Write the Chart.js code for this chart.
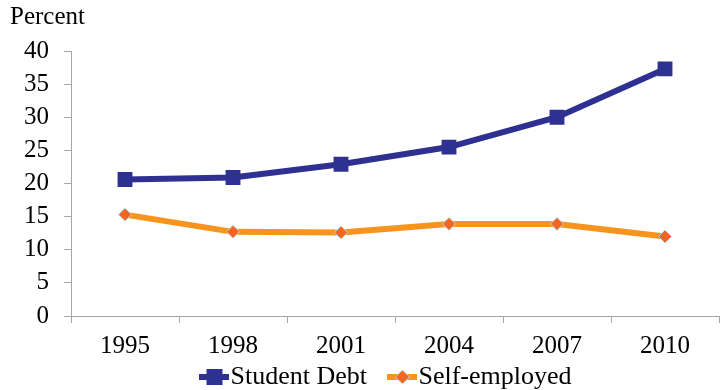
<!DOCTYPE html>
<html>
<head>
<meta charset="utf-8">
<script src="https://cdn.jsdelivr.net/npm/chart.js@4.4.0/dist/chart.umd.min.js"></script>
<style>
  html, body { margin: 0; padding: 0; background: #fff; }
  canvas { display: block; }
</style>
</head>
<body>
<canvas id="chart" width="724" height="390"></canvas>
<script>
// data
const years = ['1995', '1998', '2001', '2004', '2007', '2010'];
const studentDebt = [20.6, 20.9, 22.9, 25.5, 30.0, 37.3];
const selfEmployed = [15.3, 12.7, 12.6, 13.9, 13.9, 12.0];
const yMin = 0, yMax = 40, yStep = 5;
const yTitle = 'Percent';

const blue = '#2E3192';
const orangeLine = '#F7941D';
const orangeMark = '#F26522';
const axisGrey = '#A6A6A6';
const serif = "'Liberation Serif', 'Times New Roman', serif";
const fontSize = 25;

// little legend swatch: line segment + marker, the way the original shows it
function swatch(lineColor, draw) {
   const c = document.createElement('canvas');
   c.width = 30; c.height = 18;
   const g = c.getContext('2d');
   g.strokeStyle = lineColor;
   g.lineWidth = 6;
   g.beginPath(); g.moveTo(0, 9); g.lineTo(30, 9); g.stroke();
   draw(g);
   return c;
}
const blueSwatch = swatch(blue, g => {
   g.fillStyle = blue;
   g.fillRect(7, 1, 16, 16);
});
const orangeSwatch = swatch(orangeLine, g => {
   g.fillStyle = orangeMark;
   g.strokeStyle = '#B9D7DC';
   g.lineWidth = 1;
   g.beginPath();
   g.moveTo(15, 2); g.lineTo(22, 9); g.lineTo(15, 16); g.lineTo(8, 9); g.closePath();
   g.fill(); g.stroke();
});

// "Percent" over the y axis, and nudge the legend to sit under the plot like the original
const extrasPlugin = {
   id: 'extras',
   afterLayout(chart) {
      const lg = chart.legend;
      if (lg) { lg.left += 32; lg.right += 32; }
   },
   afterDraw(chart) {
      const ctx = chart.ctx;
      ctx.save();
      ctx.font = '25px ' + serif;
      ctx.fillStyle = '#000';
      ctx.textBaseline = 'top';
      ctx.fillText(yTitle, 10, 5);
      ctx.restore();
   }
};

new Chart(document.getElementById('chart'), {
   type: 'line',
   data: {
      labels: years,
      datasets: [
         {
            label: 'Student Debt',
            data: studentDebt,
            borderColor: blue,
            backgroundColor: blue,
            borderWidth: 6,
            pointStyle: 'rect',
            pointRadius: 10.5,
            pointBorderWidth: 0,
            tension: 0
         },
         {
            label: 'Self-employed',
            data: selfEmployed,
            borderColor: orangeLine,
            backgroundColor: orangeMark,
            pointBorderColor: '#B9D7DC',
            borderWidth: 6,
            pointStyle: 'rectRot',
            pointRadius: 6.5,
            pointBorderWidth: 1,
            tension: 0
         }
      ]
   },
   options: {
      responsive: false,
      animation: false,
      layout: { autoPadding: false, padding: { top: 51, right: 5, left: 0, bottom: -10 } },
      plugins: {
         title: { display: false },
         tooltip: { enabled: false },
         legend: {
            position: 'bottom',
            labels: {
               usePointStyle: true,
               pointStyleWidth: 6,
               boxHeight: 18,
               padding: 0,
               color: '#000',
               font: { family: serif, size: 26, lineHeight: 1.0 },
               generateLabels(chart) {
                  return chart.data.datasets.map((ds, i) => ({
                     text: ds.label + (i === 0 ? '     ' : ''),
                     pointStyle: i === 0 ? blueSwatch : orangeSwatch,
                     fillStyle: ds.borderColor,
                     strokeStyle: ds.borderColor,
                     lineWidth: 0,
                     hidden: false,
                     datasetIndex: i,
                     fontColor: '#000'
                  }));
               }
            }
         }
      },
      scales: {
         x: {
            offset: true,
            grid: { display: true, drawOnChartArea: false, offset: true, tickLength: 7, color: axisGrey },
            border: { color: axisGrey, width: 1 },
            ticks: { color: '#000', font: { family: serif, size: fontSize }, padding: 8 },
            afterFit(scale) { scale.height = 48; }
         },
         y: {
            min: yMin,
            max: yMax,
            grid: { display: true, drawOnChartArea: false, tickLength: 7, color: axisGrey },
            border: { color: axisGrey, width: 1 },
            ticks: { stepSize: yStep, autoSkip: false, color: '#000', font: { family: serif, size: fontSize }, padding: 15 },
            afterFit(scale) { scale.width = 71; }
         }
      }
   },
   plugins: [extrasPlugin]
});
</script>
</body>
</html>
